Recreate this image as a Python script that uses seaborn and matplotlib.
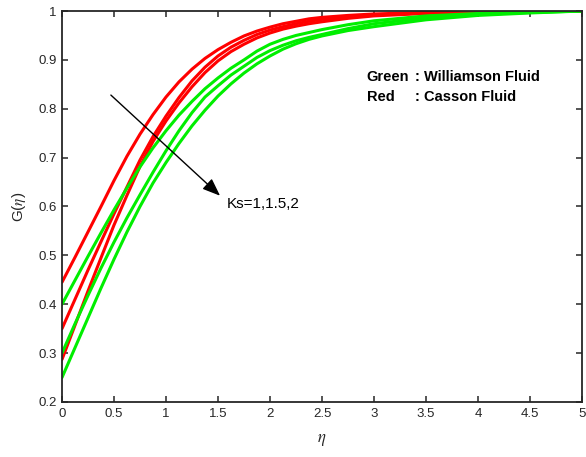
import matplotlib
matplotlib.use("Agg")
import matplotlib.pyplot as plt
import seaborn as sns
import pandas as pd

# eta grid
eta = [0, 0.125, 0.25, 0.375, 0.5, 0.625, 0.75, 0.875, 1.0, 1.125, 1.25, 1.375,
       1.5, 1.625, 1.75, 1.875, 2.0, 2.125, 2.25, 2.375, 2.5, 2.75, 3.0, 3.5,
       4.0, 4.5, 5.0]

# Casson fluid (red), Ks = 1, 1.5, 2
red_ks1 = [0.445, 0.496, 0.548, 0.600, 0.653, 0.703, 0.748, 0.788, 0.824, 0.855,
           0.881, 0.903, 0.921, 0.936, 0.949, 0.959, 0.967, 0.974, 0.979, 0.984,
           0.987, 0.991, 0.994, 0.997, 0.999, 1.0, 1.0]
red_ks15 = [0.350, 0.410, 0.470, 0.528, 0.585, 0.640, 0.695, 0.743, 0.785, 0.823,
            0.857, 0.885, 0.908, 0.926, 0.940, 0.952, 0.961, 0.968, 0.974, 0.979,
            0.983, 0.988, 0.992, 0.996, 0.998, 0.999, 1.0]
red_ks2 = [0.287, 0.357, 0.427, 0.495, 0.562, 0.623, 0.682, 0.733, 0.775, 0.812,
           0.845, 0.874, 0.898, 0.917, 0.932, 0.945, 0.955, 0.963, 0.969, 0.974,
           0.978, 0.985, 0.990, 0.995, 0.998, 0.999, 1.0]

# Williamson fluid (green), Ks = 1, 1.5, 2
green_ks1 = [0.400, 0.449, 0.498, 0.546, 0.593, 0.638, 0.681, 0.720, 0.755, 0.787,
             0.815, 0.841, 0.863, 0.883, 0.900, 0.918, 0.932, 0.942, 0.950, 0.956,
             0.962, 0.972, 0.980, 0.990, 0.995, 0.998, 1.0]
green_ks15 = [0.300, 0.360, 0.418, 0.474, 0.527, 0.577, 0.624, 0.670, 0.714, 0.755,
              0.792, 0.824, 0.847, 0.869, 0.887, 0.905, 0.919, 0.930, 0.939, 0.946,
              0.952, 0.964, 0.974, 0.986, 0.993, 0.997, 1.0]
green_ks2 = [0.250, 0.311, 0.372, 0.433, 0.492, 0.548, 0.600, 0.648, 0.690, 0.729,
             0.765, 0.797, 0.826, 0.851, 0.873, 0.892, 0.908, 0.922, 0.933, 0.942,
             0.949, 0.960, 0.968, 0.982, 0.991, 0.996, 1.0]

xticks = [0, 0.5, 1, 1.5, 2, 2.5, 3, 3.5, 4, 4.5, 5]
yticks = [0.2, 0.3, 0.4, 0.5, 0.6, 0.7, 0.8, 0.9, 1.0]
ytick_labels = ["0.2", "0.3", "0.4", "0.5", "0.6", "0.7", "0.8", "0.9", "1"]

sns.set_theme(style="white")
plt.rcParams["font.family"] = ["Liberation Sans", "DejaVu Sans"]
plt.rcParams["mathtext.fontset"] = "stix"
plt.rcParams["xtick.direction"] = "in"
plt.rcParams["ytick.direction"] = "in"

RED = "#ff0000"
GREEN = "#00ee00"
series = [
    (red_ks1, RED), (red_ks15, RED), (red_ks2, RED),
    (green_ks1, GREEN), (green_ks15, GREEN), (green_ks2, GREEN),
]

fig = plt.figure(figsize=(5.86, 4.57), dpi=100)
ax = fig.add_axes([0.1058, 0.1204, 0.8874, 0.8555])

for vals, col in series:
    df = pd.DataFrame({"eta": eta, "G": vals})
    sns.lineplot(data=df, x="eta", y="G", color=col, linewidth=2.2, ax=ax,
                 estimator=None, sort=False)

ax.set_xlim(0, 5)
ax.set_ylim(0.2, 1.0)
ax.set_xticks(xticks)
ax.set_xticklabels([("%g" % t) for t in xticks])
ax.set_yticks(yticks)
ax.set_yticklabels(ytick_labels)

axcol = "#262626"
for s in ax.spines.values():
    s.set_visible(True)
    s.set_color(axcol)
    s.set_linewidth(1.3)
ax.tick_params(axis="both", which="both", direction="in", length=4.5, width=1.1,
               colors=axcol, labelsize=9.5, top=True, right=True,
               bottom=True, left=True, labelcolor=axcol, pad=4)

ax.set_xlabel(r"$\eta$", fontsize=12, color=axcol, labelpad=9)
ax.set_ylabel(r"G($\eta$)", fontsize=11, color=axcol, labelpad=7)

# arrow and annotation
ax.annotate("", xy=(1.52, 0.622), xytext=(0.47, 0.828),
            arrowprops=dict(arrowstyle="-|>,head_length=0.9,head_width=0.35",
                            color="black", lw=1.0, shrinkA=0, shrinkB=0))
ax.text(1.585, 0.605, "Ks=1,1.5,2", fontsize=11, color="black", va="center", ha="left")

# text legend
ax.text(2.93, 0.864, "Green", fontsize=10.5, fontweight="bold", color="black", va="center")
ax.text(3.39, 0.864, ": Williamson Fluid", fontsize=10.5, fontweight="bold", color="black", va="center")
ax.text(2.93, 0.825, "Red", fontsize=10.5, fontweight="bold", color="black", va="center")
ax.text(3.39, 0.825, ": Casson Fluid", fontsize=10.5, fontweight="bold", color="black", va="center")

fig.savefig("out.png", dpi=100)
